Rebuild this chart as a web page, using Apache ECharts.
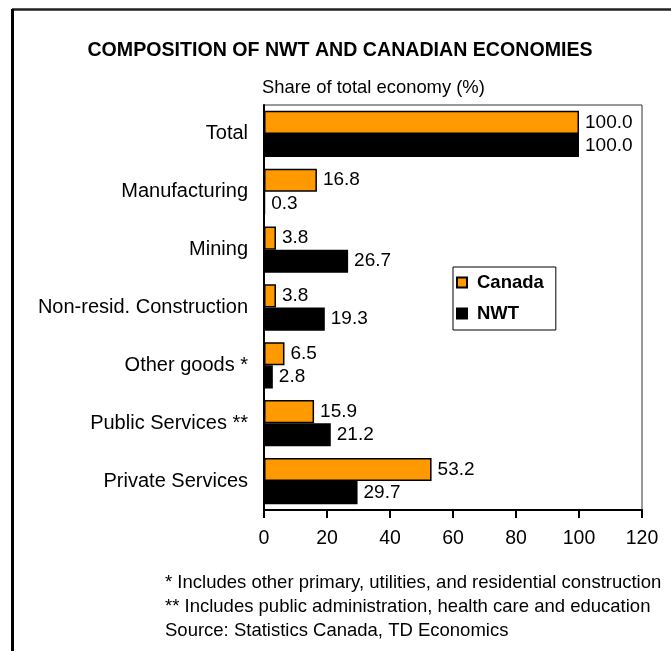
<!DOCTYPE html>
<html>
<head>
<meta charset="utf-8">
<script src="https://cdn.jsdelivr.net/npm/echarts@6/dist/echarts.min.js"></script>
<style>
  html, body { margin: 0; padding: 0; background: #fff; }
  #chart { width: 671px; height: 651px; }
</style>
</head>
<body>
<div id="chart"></div>
<script>
// Sector shares of total economy (%)
var categories = ['Total', 'Manufacturing', 'Mining', 'Non-resid. Construction', 'Other goods *', 'Public Services **', 'Private Services'];
var canadaShare = [100.0, 16.8, 3.8, 3.8, 6.5, 15.9, 53.2];
var nwtShare = [100.0, 0.3, 26.7, 19.3, 2.8, 21.2, 29.7];
var footnotes = [
  '* Includes other primary, utilities, and residential construction',
  '** Includes public administration, health care and education',
  'Source: Statistics Canada, TD Economics'
];

var FONT = 'Liberation Sans, Arial, sans-serif';
var chart = echarts.init(document.getElementById('chart'), null, { renderer: 'canvas' });

var valueLabel = {
  show: true,
  position: 'right',
  distance: 6,
  fontFamily: FONT,
  fontSize: 19,
  color: '#000',
  formatter: function (p) { return p.value.toFixed(1); }
};

chart.setOption({
  animation: false,
  backgroundColor: '#fff',
  title: {
    text: 'COMPOSITION OF NWT AND CANADIAN ECONOMIES',
    left: 335,
    textAlign: 'center',
    top: 36,
    textStyle: { fontFamily: FONT, fontSize: 19.6, fontWeight: 'bold', color: '#000' }
  },
  legend: {
    orient: 'vertical',
    left: 453,
    top: 267,
    padding: [6, 12, 7, 3],
    itemGap: 12,
    itemWidth: 10,
    itemHeight: 10,
    borderColor: '#000',
    borderWidth: 1,
    icon: 'rect',
    textStyle: { fontFamily: FONT, fontSize: 18.5, fontWeight: 'bold', color: '#000', padding: [0, 0, 0, 5] },
    data: ['Canada', 'NWT']
  },
  grid: {
    left: 264,
    right: 29,
    top: 105,
    height: 405,
    show: true,
    borderColor: '#333',
    borderWidth: 1,
    containLabel: false
  },
  xAxis: {
    type: 'value',
    min: 0,
    max: 120,
    interval: 20,
    splitLine: { show: false },
    axisLine: { show: true, lineStyle: { color: '#000', width: 2 } },
    axisTick: { show: true, length: 8, lineStyle: { color: '#000', width: 2 } },
    axisLabel: { fontFamily: FONT, fontSize: 19.5, color: '#000', margin: 19 }
  },
  yAxis: {
    type: 'category',
    inverse: true,
    data: categories,
    axisLine: { show: true, lineStyle: { color: '#000', width: 2 } },
    axisTick: { show: false },
    axisLabel: { fontFamily: FONT, fontSize: 20, color: '#000', margin: 16 }
  },
  series: [
    {
      name: 'Canada',
      type: 'bar',
      data: canadaShare,
      barGap: '0%',
      barCategoryGap: '20%',
      itemStyle: { color: '#FF9900', borderColor: '#000', borderWidth: 1.5 },
      label: valueLabel
    },
    {
      name: 'NWT',
      type: 'bar',
      data: nwtShare,
      itemStyle: { color: '#000', borderColor: '#000', borderWidth: 1.5 },
      label: valueLabel
    }
  ],
  graphic: [
    { type: 'line', shape: { x1: 12, y1: 9.5, x2: 671, y2: 9.5 }, style: { stroke: '#222', lineWidth: 2.5 } },
    { type: 'line', shape: { x1: 12.5, y1: 9, x2: 12.5, y2: 651 }, style: { stroke: '#000', lineWidth: 3 } },
    { type: 'text', left: 262, top: 79, style: { text: 'Share of total economy (%)', fontFamily: FONT, fontSize: 18.4, fill: '#000' } },
    { type: 'text', left: 165, top: 573, style: { text: footnotes[0], fontFamily: FONT, fontSize: 18.5, fill: '#000' } },
    { type: 'text', left: 165, top: 597, style: { text: footnotes[1], fontFamily: FONT, fontSize: 18.5, fill: '#000' } },
    { type: 'text', left: 165, top: 621, style: { text: footnotes[2], fontFamily: FONT, fontSize: 18.5, fill: '#000' } }
  ]
});
</script>
</body>
</html>
